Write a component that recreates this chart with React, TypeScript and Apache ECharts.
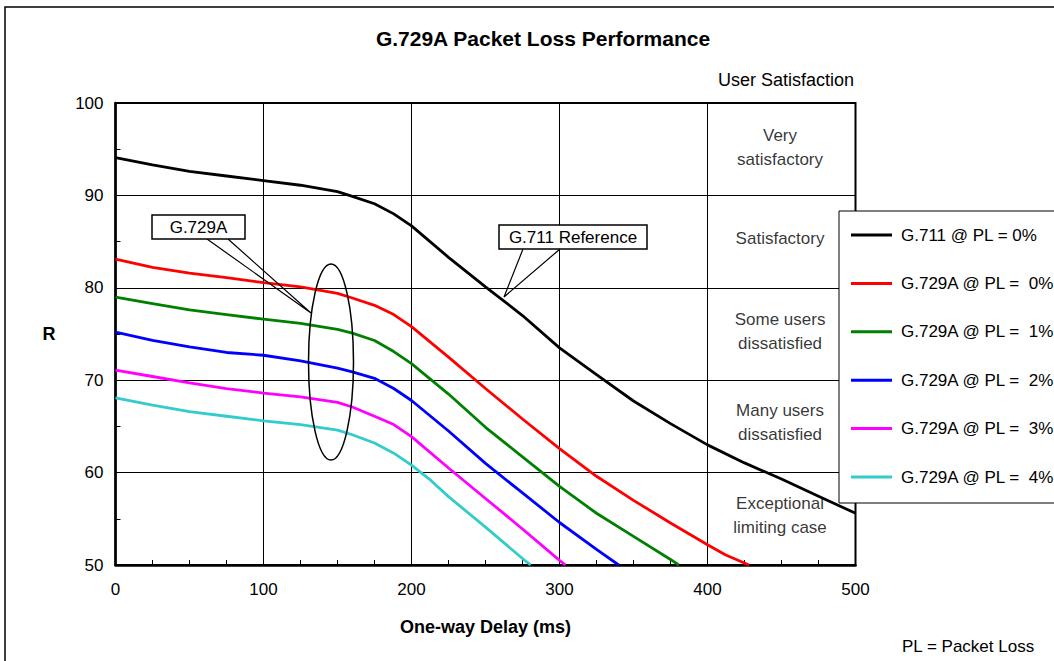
import React, { useEffect, useRef } from "react";
import * as echarts from "echarts";

const FONT = "'Liberation Sans', Arial, sans-serif";

const seriesNames = [
  "G.711 @ PL = 0%",
  "G.729A @ PL =  0%",
  "G.729A @ PL =  1%",
  "G.729A @ PL =  2%",
  "G.729A @ PL =  3%",
  "G.729A @ PL =  4%",
];
const seriesColors = ["#000000", "#ff0000", "#008000", "#0000ff", "#ff00ff", "#33cccc"];

const g711PL0: [number, number][] = [
  [0, 94.1], [25, 93.3], [50, 92.6], [75, 92.1], [100, 91.6], [125, 91.1], [150, 90.4],
  [160, 89.9], [175, 89.1], [188, 88.0], [200, 86.7], [225, 83.3], [250, 80.1], [275, 77.0],
  [300, 73.5], [325, 70.6], [350, 67.75], [375, 65.3], [400, 63.0], [425, 61.05], [450, 59.3],
  [475, 57.45], [500, 55.6],
];
const g729PL0: [number, number][] = [
  [0, 83.1], [25, 82.2], [50, 81.6], [75, 81.1], [100, 80.55], [125, 80.1], [150, 79.4],
  [160, 78.9], [175, 78.1], [188, 77.1], [200, 75.8], [225, 72.5], [250, 69.1], [275, 65.8],
  [300, 62.6], [325, 59.6], [350, 57.0], [375, 54.55], [400, 52.2], [412, 51.1], [428, 50],
];
const g729PL1: [number, number][] = [
  [0, 79.0], [25, 78.3], [50, 77.6], [75, 77.1], [100, 76.6], [125, 76.15], [150, 75.5],
  [160, 75.1], [175, 74.3], [188, 73.1], [200, 71.8], [225, 68.5], [250, 64.9], [275, 61.7],
  [300, 58.5], [325, 55.6], [350, 53.1], [375, 50.6], [380.6, 50],
];
const g729PL2: [number, number][] = [
  [0, 75.2], [25, 74.3], [50, 73.6], [75, 73.0], [100, 72.7], [125, 72.1], [150, 71.3],
  [160, 70.9], [175, 70.2], [188, 69.1], [200, 67.8], [225, 64.5], [250, 61.0], [275, 57.8],
  [300, 54.6], [325, 51.7], [340, 50],
];
const g729PL3: [number, number][] = [
  [0, 71.1], [25, 70.4], [50, 69.7], [75, 69.1], [100, 68.6], [125, 68.2], [150, 67.6],
  [160, 67.1], [175, 66.1], [188, 65.2], [200, 63.9], [225, 60.5], [250, 57.2], [275, 53.9],
  [300, 50.5], [304, 50],
];
const g729PL4: [number, number][] = [
  [0, 68.1], [25, 67.3], [50, 66.6], [75, 66.1], [100, 65.6], [125, 65.2], [150, 64.6],
  [160, 64.1], [175, 63.2], [188, 62.1], [200, 60.8], [212, 59.3], [225, 57.4], [250, 54.1],
  [275, 50.7], [280.5, 50],
];
const allSeries = [g711PL0, g729PL0, g729PL1, g729PL2, g729PL3, g729PL4];

const bandLabels = [
  "Very\nsatisfactory",
  "Satisfactory",
  "Some users\ndissatisfied",
  "Many users\ndissatisfied",
  "Exceptional\nlimiting case",
];
const bandLabelR = [95.2, 85.3, 75.3, 65.4, 55.4];
const bandLabelX = 449;

export default function App() {
  const ref = useRef<HTMLDivElement>(null);
  useEffect(() => {
    document.body.style.margin = "0";
    const chart = echarts.init(ref.current!, null, { renderer: "svg" });
    const lineSeries = allSeries.map((d, i) => ({
      name: seriesNames[i],
      type: "line",
      data: d,
      symbol: "none",
      smooth: false,
      color: seriesColors[i],
      lineStyle: { color: seriesColors[i], width: 2.8 },
      z: 3,
    }));
    chart.setOption({
      animation: false,
      backgroundColor: "#ffffff",
      textStyle: { fontFamily: FONT },
      title: {
        text: "G.729A Packet Loss Performance",
        left: 538,
        top: 23,
        textAlign: "center",
        textStyle: { fontFamily: FONT, fontSize: 21, fontWeight: "bold", color: "#000" },
      },
      grid: {
        left: 115.5,
        right: 198.5,
        top: 103,
        bottom: 96,
        show: true,
        borderColor: "#000",
        borderWidth: 2,
        backgroundColor: "transparent",
      },
      legend: {
        data: seriesNames,
        orient: "vertical",
        left: 839,
        top: 211,
        icon: "rect",
        itemWidth: 41,
        itemHeight: 3,
        itemGap: 28.4,
        padding: [14, 60, 16, 12],
        backgroundColor: "#ffffff",
        borderColor: "#000",
        borderWidth: 1,
        textStyle: { fontFamily: FONT, fontSize: 17, color: "#000", lineHeight: 20, padding: [0, 0, 0, 4] },
        z: 10,
      },
      xAxis: {
        type: "value",
        min: 0,
        max: 500,
        interval: 100,
        name: "One-way Delay (ms)",
        nameLocation: "middle",
        nameGap: 53,
        nameTextStyle: { fontFamily: FONT, fontSize: 18, fontWeight: "bold", color: "#000" },
        axisLine: { show: true, onZero: false, lineStyle: { color: "#000", width: 2.5 } },
        axisTick: { show: true, inside: true, length: 5, lineStyle: { color: "#000", width: 1 } },
        minorTick: { show: true, splitNumber: 4, length: 5, lineStyle: { color: "#000", width: 1 } },
        axisLabel: { fontFamily: FONT, fontSize: 17, color: "#000", margin: 16 },
        splitLine: { show: true, lineStyle: { color: "#000", width: 1 } },
      },
      yAxis: {
        type: "value",
        min: 50,
        max: 100,
        interval: 10,
        name: "R",
        nameLocation: "middle",
        nameRotate: 0,
        nameGap: 60,
        nameTextStyle: { fontFamily: FONT, fontSize: 18, fontWeight: "bold", color: "#000" },
        axisLine: { show: true, onZero: false, lineStyle: { color: "#000", width: 2.5 } },
        axisTick: { show: true, inside: true, length: 5, lineStyle: { color: "#000", width: 1 } },
        minorTick: { show: true, splitNumber: 2, length: 5, lineStyle: { color: "#000", width: 1 } },
        axisLabel: { fontFamily: FONT, fontSize: 17, color: "#000", margin: 12 },
        splitLine: { show: true, lineStyle: { color: "#000", width: 1 } },
      },
      series: [
        ...lineSeries,
        {
          name: "bands",
          type: "scatter",
          symbolSize: 1,
          itemStyle: { color: "rgba(0,0,0,0)" },
          data: bandLabels.map((t, i) => [bandLabelX, bandLabelR[i], t]),
          label: {
            show: true,
            position: "inside",
            formatter: (p: any) => p.data[2],
            fontFamily: FONT,
            fontSize: 17,
            lineHeight: 24,
            color: "#000",
            align: "center",
          },
          z: 2,
        },
      ],
      graphic: [
        {
          type: "rect",
          shape: { x: 5, y: 7, width: 1200, height: 800 },
          style: { fill: "none", stroke: "#000", lineWidth: 1.5 },
          silent: true,
          z: 1,
        },
        {
          type: "text",
          x: 854,
          y: 80,
          style: { text: "User Satisfaction", fontFamily: FONT, fontSize: 18, fill: "#000", align: "right", verticalAlign: "middle" },
        },
        {
          type: "text",
          x: 902,
          y: 646,
          style: { text: "PL = Packet Loss", fontFamily: FONT, fontSize: 17, fill: "#000", align: "left", verticalAlign: "middle" },
        },
        {
          type: "polyline",
          shape: { points: [[207, 239], [311, 313], [228, 239]] },
          style: { stroke: "#000", lineWidth: 1.2, fill: "none" },
          z: 20,
        },
        {
          type: "rect",
          shape: { x: 152, y: 215, width: 93, height: 24 },
          style: { fill: "#fff", stroke: "#000", lineWidth: 1.5 },
          z: 20,
        },
        {
          type: "text",
          x: 198.5,
          y: 227.5,
          style: { text: "G.729A", fontFamily: FONT, fontSize: 17, fill: "#000", align: "center", verticalAlign: "middle" },
          z: 21,
        },
        {
          type: "ellipse",
          shape: { cx: 331, cy: 362, rx: 22.5, ry: 98 },
          style: { fill: "none", stroke: "#000", lineWidth: 1.5 },
          z: 20,
        },
        {
          type: "polyline",
          shape: { points: [[523, 249], [504, 297], [560, 249]] },
          style: { stroke: "#000", lineWidth: 1.2, fill: "none" },
          z: 20,
        },
        {
          type: "rect",
          shape: { x: 499, y: 225, width: 148, height: 24 },
          style: { fill: "#fff", stroke: "#000", lineWidth: 1.5 },
          z: 20,
        },
        {
          type: "text",
          x: 573,
          y: 237.5,
          style: { text: "G.711 Reference", fontFamily: FONT, fontSize: 17, fill: "#000", align: "center", verticalAlign: "middle" },
          z: 21,
        },
      ],
    });
    return () => chart.dispose();
  }, []);
  return <div ref={ref} style={{ width: 1054, height: 661 }} />;
}
